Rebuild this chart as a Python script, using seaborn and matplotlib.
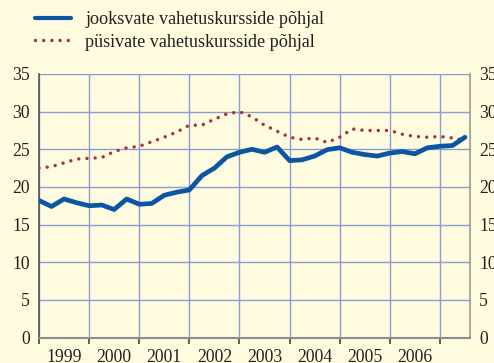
import numpy as np
import pandas as pd
import matplotlib
matplotlib.use("Agg")
import matplotlib.pyplot as plt
from matplotlib.ticker import FixedLocator, NullFormatter, FixedFormatter
import seaborn as sns

# Quarterly series, 1999 Q1 onwards
quarters = [1999 + i * 0.25 for i in range(35)]
current_rates = [18.2, 17.4, 18.4, 17.9, 17.5, 17.6, 17.0, 18.4, 17.7, 17.8,
                 18.9, 19.3, 19.6, 21.5, 22.5, 24.0, 24.6, 25.0, 24.6, 25.3,
                 23.5, 23.6, 24.1, 24.95, 25.2, 24.6, 24.3, 24.1, 24.5, 24.7,
                 24.4, 25.2, 25.4, 25.5, 26.6]
constant_rates = [22.5, 22.7, 23.2, 23.7, 23.8, 23.9, 24.7, 25.2, 25.4, 26.0,
                  26.6, 27.3, 28.2, 28.2, 29.0, 29.7, 30.0, 29.3, 28.2, 27.4,
                  26.6, 26.3, 26.5, 25.9, 26.6, 27.7, 27.5, 27.5, 27.5, 27.0,
                  26.7, 26.6, 26.7, 26.5, 26.2]
label_current = "jooksvate vahetuskursside põhjal"
label_constant = "püsivate vahetuskursside põhjal"
year_labels = ["1999", "2000", "2001", "2002", "2003", "2004", "2005", "2006"]
y_ticks = [0, 5, 10, 15, 20, 25, 30, 35]

sns.set_style("white")
plt.rcParams["font.family"] = ["Liberation Serif", "DejaVu Serif"]

BG = "#fffbdf"
BLUE = "#0a56a2"
RED = "#a8343a"
GRID = "#8a9bd6"
TEXT = "#231f20"

df = pd.DataFrame({"aeg": quarters, "jooksev": current_rates, "pusiv": constant_rates})

fig = plt.figure(figsize=(4.94, 3.63), dpi=100, facecolor=BG)
ax = fig.add_axes([39 / 494, 25.5 / 363, 431 / 494, 263.5 / 363])
ax.set_facecolor(BG)

sns.lineplot(data=df, x="aeg", y="jooksev", ax=ax, color=BLUE, linewidth=3.4,
             label=label_current, zorder=4)
sns.lineplot(data=df, x="aeg", y="pusiv", ax=ax, color=RED, linewidth=2.5,
             label=label_constant, zorder=3)
red_line = ax.get_lines()[1]
red_line.set_linestyle((0, (0.01, 2.35)))
red_line.set_dash_capstyle("round")

ax.set_xlim(1999, 2007.6)
ax.set_ylim(0, 35)
ax.set_xlabel("")
ax.set_ylabel("")

# Year boundaries as ticks, labels centred between them
ax.xaxis.set_major_locator(FixedLocator(list(range(1999, 2008))))
ax.xaxis.set_major_formatter(NullFormatter())
ax.xaxis.set_minor_locator(FixedLocator([y + 0.5 for y in range(1999, 2007)]))
ax.xaxis.set_minor_formatter(FixedFormatter(year_labels))
ax.tick_params(axis="x", which="major", direction="out", length=4, width=1.2,
               color="#444444", bottom=True)
ax.tick_params(axis="x", which="minor", length=0, pad=8.0, labelsize=12.7,
               labelcolor=TEXT)

ax.set_yticks(y_ticks)
ax.tick_params(axis="y", length=0, labelsize=12.7, labelcolor=TEXT, pad=6.5,
               left=True, right=False, labelleft=True, labelright=True)

ax.grid(True, axis="both", which="major", color=GRID, linewidth=1.0)
ax.set_axisbelow(True)

ax.spines["top"].set_visible(False)
ax.spines["left"].set_color("#555555")
ax.spines["left"].set_linewidth(1.2)
ax.spines["right"].set_color("#999999")
ax.spines["right"].set_linewidth(1.2)
ax.spines["bottom"].set_color("#8c8c8c")
ax.spines["bottom"].set_linewidth(1.5)

ax.get_legend().remove()
handles, labels = ax.get_legend_handles_labels()
leg = fig.legend(handles, labels, loc="upper left",
                 bbox_to_anchor=(28 / 494, 1 - 4 / 363), frameon=False,
                 fontsize=13.1, handlelength=1.95, handletextpad=0.8,
                 labelspacing=0.3, borderaxespad=0)
for t in leg.get_texts():
    t.set_color(TEXT)
leg.get_lines()[0].set_linewidth(3.0)

fig.savefig("out.png", dpi=100, facecolor=BG)
